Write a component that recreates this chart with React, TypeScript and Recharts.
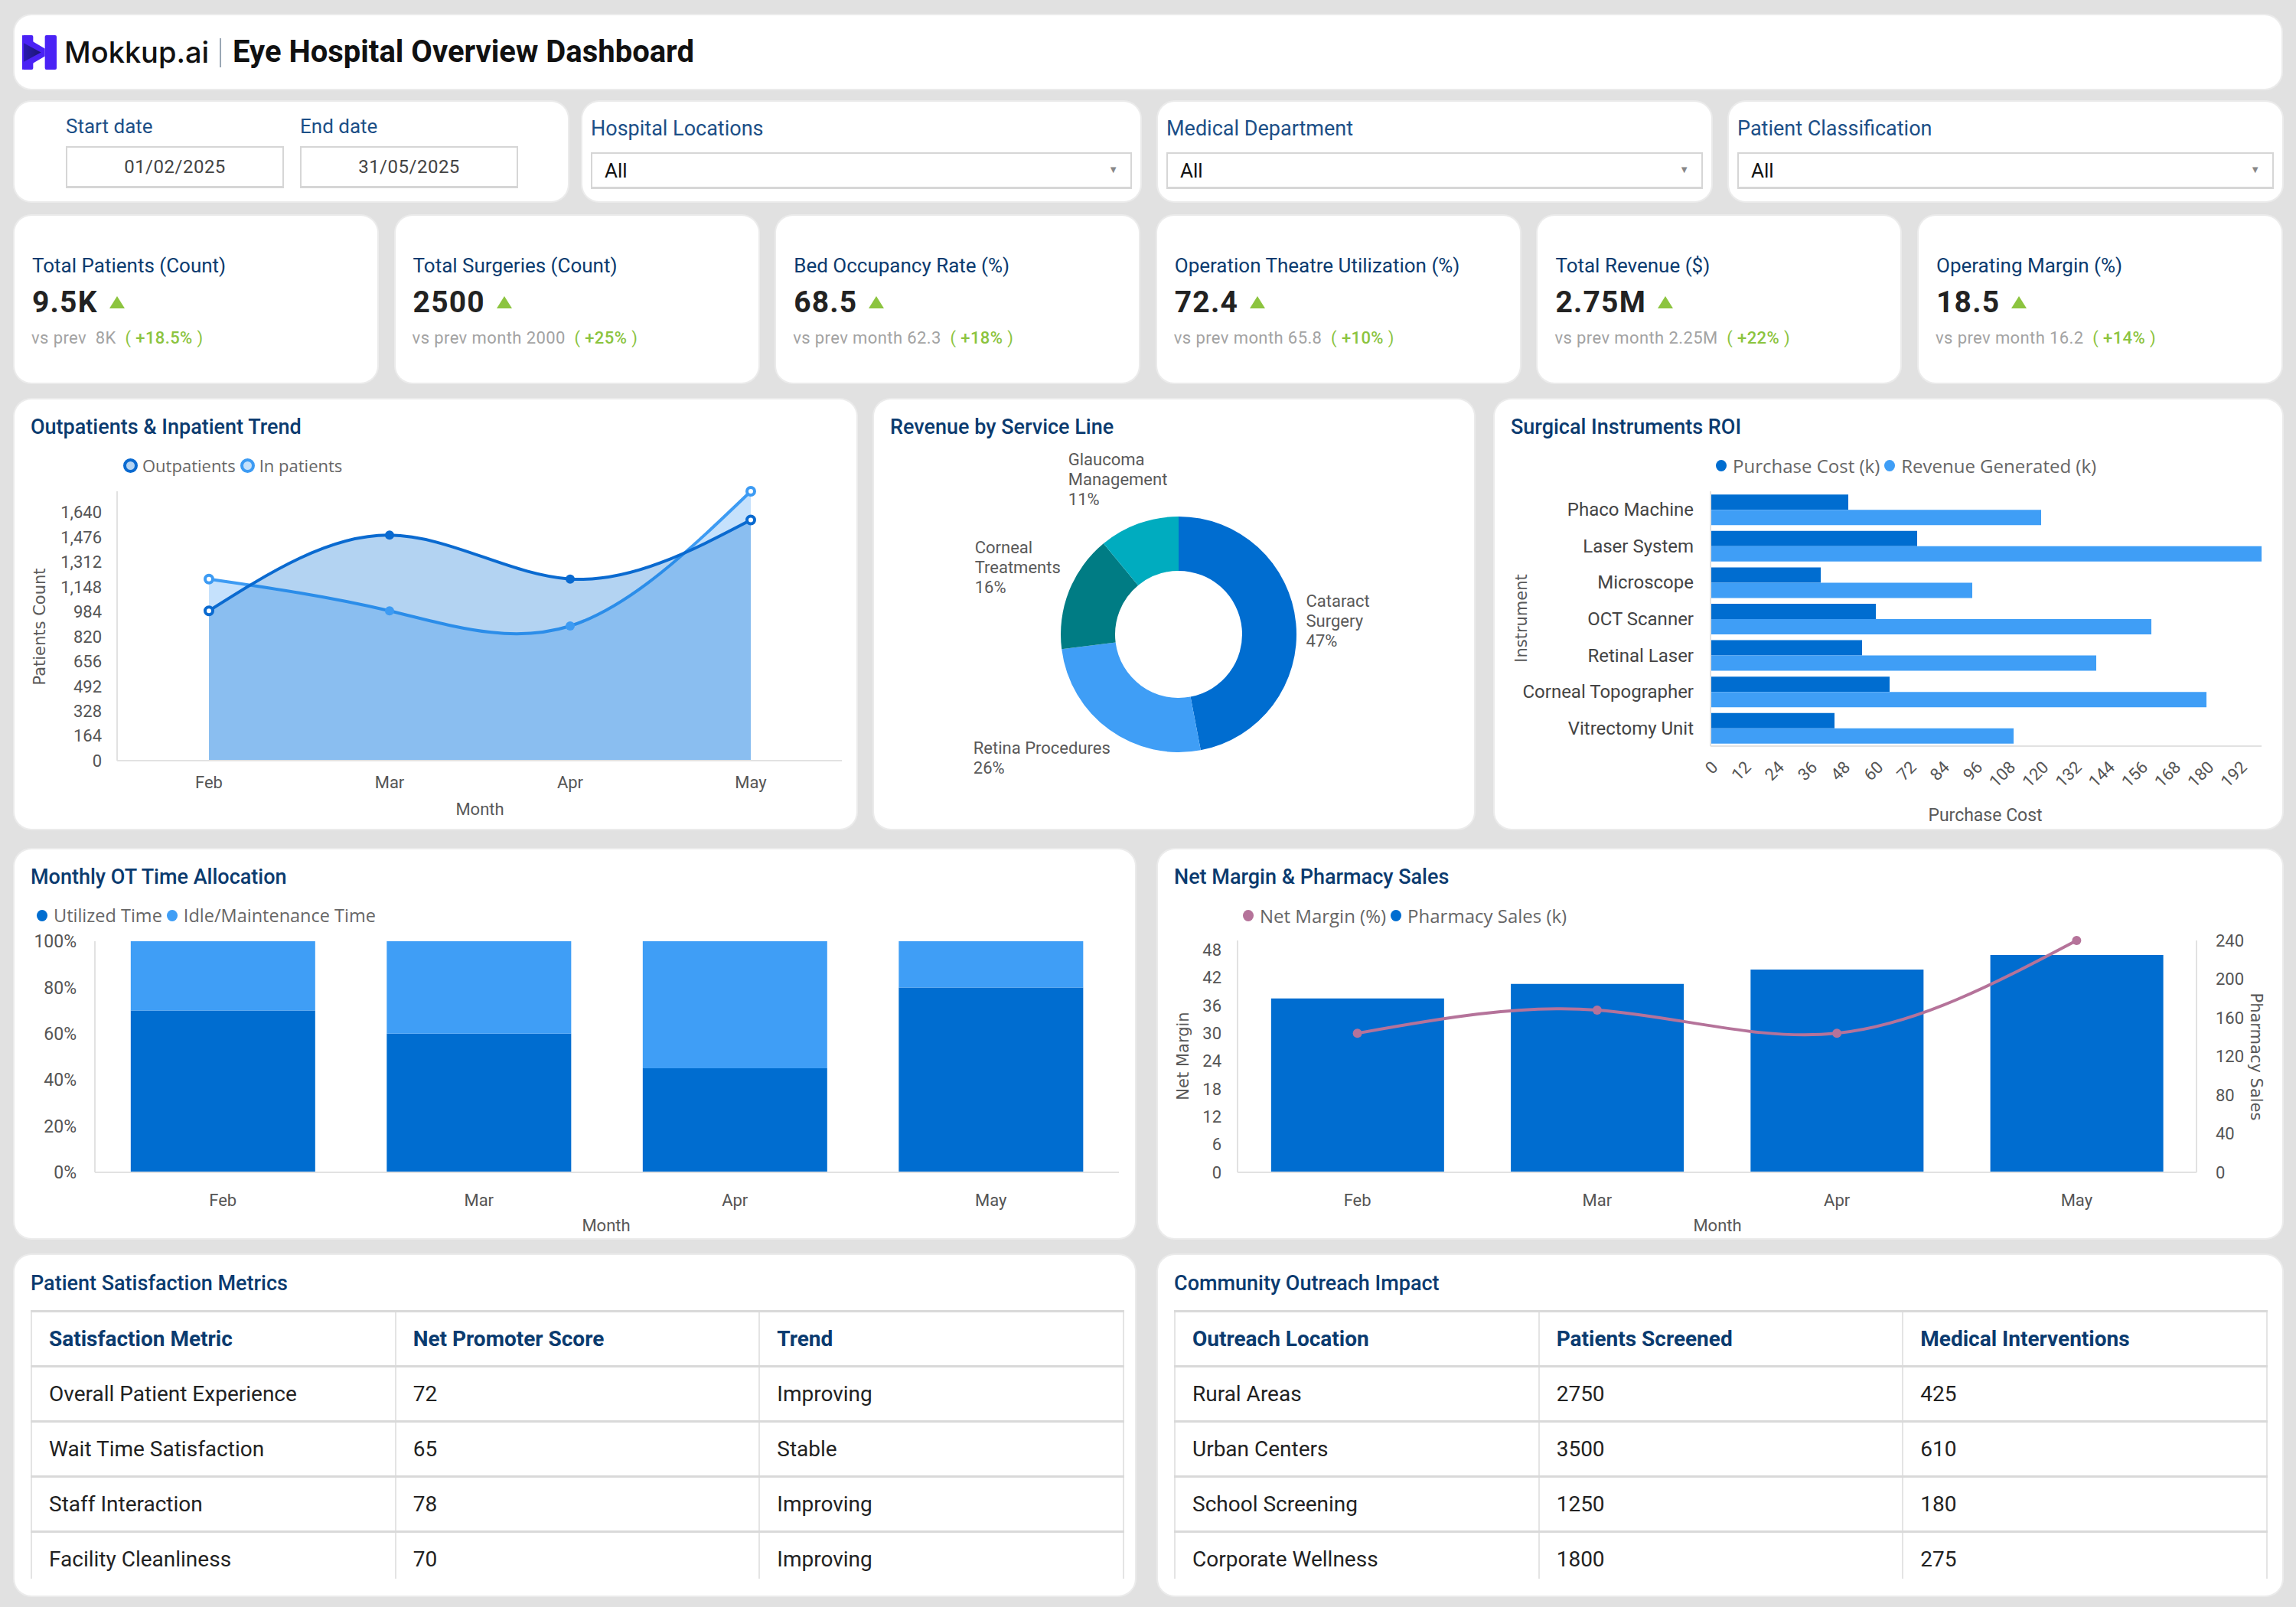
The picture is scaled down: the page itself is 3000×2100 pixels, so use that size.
import React from 'react';
import {
  AreaChart,
  Area,
  BarChart,
  Bar,
  ComposedChart,
  Line,
  PieChart,
  Pie,
  Cell,
  XAxis,
  YAxis,
} from 'recharts';

// ---- data ----
const months = ['Feb', 'Mar', 'Apr', 'May'];

const outpatients = [990, 1490, 1200, 1590];
const inpatients = [1200, 990, 890, 1780];
const patientTicks = [0, 164, 328, 492, 656, 820, 984, 1148, 1312, 1476, 1640];

const serviceLines = ['Cataract Surgery', 'Retina Procedures', 'Corneal Treatments', 'Glaucoma Management'];
const serviceShare = [47, 26, 16, 11];
const serviceLabelLines = [['Cataract', 'Surgery'], ['Retina Procedures'], ['Corneal', 'Treatments'], ['Glaucoma', 'Management']];
const serviceColors = ['#006dd0', '#3f9ef6', '#007c84', '#00acbf'];

const instruments = ['Phaco Machine', 'Laser System', 'Microscope', 'OCT Scanner', 'Retinal Laser', 'Corneal Topographer', 'Vitrectomy Unit'];
const purchaseCost = [50, 75, 40, 60, 55, 65, 45];
const revenueGenerated = [120, 200, 95, 160, 140, 180, 110];
const costTicks = [0, 12, 24, 36, 48, 60, 72, 84, 96, 108, 120, 132, 144, 156, 168, 180, 192];

const utilizedTime = [70, 60, 45, 80];
const idleTime = [30, 40, 55, 20];
const percentTicks = [0, 20, 40, 60, 80, 100];

const netMargin = [30, 35, 30, 50];
const pharmacySales = [180, 195, 210, 225];
const marginTicks = [0, 6, 12, 18, 24, 30, 36, 42, 48];
const salesTicks = [0, 40, 80, 120, 160, 200, 240];

const kpiTitles = ['Total Patients (Count)', 'Total Surgeries (Count)', 'Bed Occupancy Rate (%)', 'Operation Theatre Utilization (%)', 'Total Revenue ($)', 'Operating Margin (%)'];
const kpiValues = ['9.5K', '2500', '68.5', '72.4', '2.75M', '18.5'];
const kpiPrev = ['vs prev  8K', 'vs prev month 2000', 'vs prev month 62.3', 'vs prev month 65.8', 'vs prev month 2.25M', 'vs prev month 16.2'];
const kpiChange = ['+18.5%', '+25%', '+18%', '+10%', '+22%', '+14%'];

const satisfactionHeaders = ['Satisfaction Metric', 'Net Promoter Score', 'Trend'];
const satisfactionRows = [
  ['Overall Patient Experience', '72', 'Improving'],
  ['Wait Time Satisfaction', '65', 'Stable'],
  ['Staff Interaction', '78', 'Improving'],
  ['Facility Cleanliness', '70', 'Improving'],
];
const outreachHeaders = ['Outreach Location', 'Patients Screened', 'Medical Interventions'];
const outreachRows = [
  ['Rural Areas', '2750', '425'],
  ['Urban Centers', '3500', '610'],
  ['School Screening', '1250', '180'],
  ['Corporate Wellness', '1800', '275'],
];

// ---- tables for recharts ----
const trendData = months.map((m, i) => ({ month: m, outpatients: outpatients[i], inpatients: inpatients[i] }));
const serviceData = serviceLines.map((n, i) => ({ name: n, value: serviceShare[i] }));
const instrumentData = instruments.map((n, i) => ({ name: n, cost: purchaseCost[i], revenue: revenueGenerated[i] }));
const otData = months.map((m, i) => ({ month: m, utilized: utilizedTime[i], idle: idleTime[i] }));
const marginData = months.map((m, i) => ({ month: m, margin: netMargin[i], sales: pharmacySales[i] }));

// ---- styles ----
const DARK = '#006dd0';
const LIGHT = '#3f9ef6';
const TITLE = '#0b3b6f';
const LABEL_BLUE = '#1c4f87';
const GREEN = '#8cc43f';
const tick = { fill: '#555', fontSize: 22, fontFamily: 'Roboto' };
const axisLine = { stroke: '#e2e2e2', strokeWidth: 2 };
// small hand offsets so the donut labels don't crowd each other
const pieLabelNudge = [[0, 2], [-39, -31], [4, -3], [-4, 7]];

const measureCtx = typeof document !== 'undefined' ? document.createElement('canvas').getContext('2d') : null;
function textWidth(s: string, font: string) {
  if (!measureCtx) return s.length * 11;
  measureCtx.font = font;
  return measureCtx.measureText(s).width;
}

function Card({ x, y, w, h, children }: any) {
  return (
    <div
      style={{
        position: 'absolute',
        left: x,
        top: y,
        width: w,
        height: h,
        background: '#fff',
        borderRadius: 22,
        boxShadow: '0 0 0 2px #ebebeb',
        overflow: 'hidden',
      }}
    >
      {children}
    </div>
  );
}

function CardTitle({ text, cy = 36 }: { text: string; cy?: number }) {
  return (
    <div
      style={{
        position: 'absolute',
        left: 21,
        top: cy - 18,
        height: 36,
        lineHeight: '36px',
        fontSize: 27,
        fontWeight: 500,
        color: TITLE,
        whiteSpace: 'nowrap',
      }}
    >
      {text}
    </div>
  );
}

function AxisTitle({ text, cx, cy, rotate = 0, family = 'Roboto', size = 22 }: any) {
  return (
    <div
      style={{
        position: 'absolute',
        left: cx,
        top: cy,
        transform: `translate(-50%, -50%) rotate(${rotate}deg)`,
        fontFamily: family,
        fontSize: size,
        color: '#595959',
        whiteSpace: 'nowrap',
        lineHeight: '26px',
      }}
    >
      {text}
    </div>
  );
}

type LegendItem = { label: string; color: string; ring?: string };
function Legend({ items, left, top = 71, size = 22 }: { items: LegendItem[]; left: number; top?: number; size?: number }) {
  return (
    <div
      style={{
        position: 'absolute',
        left,
        top,
        height: 30,
        display: 'flex',
        alignItems: 'center',
        fontFamily: '"Open Sans"',
        fontSize: size,
        color: '#666',
        whiteSpace: 'nowrap',
      }}
    >
      {items.map((it) => (
        <span key={it.label} style={{ display: 'flex', alignItems: 'center', marginRight: 6 }}>
          <span
            style={{
              boxSizing: 'border-box',
              width: it.ring ? 19 : 14,
              height: it.ring ? 19 : 15,
              borderRadius: '50%',
              background: it.ring ? it.ring : it.color,
              border: it.ring ? `4px solid ${it.color}` : 'none',
              marginRight: it.ring ? 6 : 8,
            }}
          />
          {it.label}
        </span>
      ))}
    </div>
  );
}

function Logo() {
  return (
    <svg width={45} height={45} viewBox="0 0 44 44" style={{ position: 'absolute', left: 10, top: 26 }}>
      <defs>
        <linearGradient id="logoGrad" x1="0" y1="0" x2="1" y2="0">
          <stop offset="0%" stopColor="#2a1ab0" />
          <stop offset="100%" stopColor="#1b1670" />
        </linearGradient>
      </defs>
      <rect x={0} y={0} width={14} height={44} rx={2} fill="#4a22f5" />
      <rect x={29} y={0} width={15} height={44} rx={2} fill="#4a22f5" />
      <polygon points="0,0 29,17 29,27 0,44 0,34 16,22 0,10" fill="#4a22f5" />
      <polygon points="2,10 24,22 2,34" fill="url(#logoGrad)" />
    </svg>
  );
}

function DateField({ x, label, value }: { x: number; label: string; value: string }) {
  return (
    <>
      <div style={{ position: 'absolute', left: x, top: 17, fontSize: 26, color: LABEL_BLUE, lineHeight: '30px' }}>{label}</div>
      <div
        style={{
          position: 'absolute',
          left: x,
          top: 58,
          width: 285,
          height: 55,
          boxSizing: 'border-box',
          border: '2px solid #d6d6d6',
          borderBottomWidth: 3,
          display: 'flex',
          alignItems: 'center',
          justifyContent: 'center',
          fontSize: 24,
          color: '#444',
          letterSpacing: 0.5,
        }}
      >
        {value}
      </div>
    </>
  );
}

function Dropdown({ x, w, label }: { x: number; w: number; label: string }) {
  return (
    <Card x={x} y={133} w={w} h={130}>
      <div style={{ position: 'absolute', left: 11, top: 20, fontSize: 27, color: LABEL_BLUE, lineHeight: '30px' }}>{label}</div>
      <div
        style={{
          position: 'absolute',
          left: 11,
          top: 66,
          width: w - 22,
          height: 48,
          boxSizing: 'border-box',
          border: '2px solid #d6d6d6',
          borderBottomWidth: 3,
          display: 'flex',
          alignItems: 'center',
          paddingLeft: 16,
          fontSize: 26,
          color: '#111',
        }}
      >
        All
        <span style={{ position: 'absolute', right: 16, top: 13, fontSize: 13, color: '#888' }}>▼</span>
      </div>
    </Card>
  );
}

function Kpi({ i }: { i: number }) {
  const x = 19 + i * 497.6;
  return (
    <Card x={x} y={282} w={474} h={218}>
      <div style={{ position: 'absolute', left: 23, top: 48, fontSize: 26, color: TITLE, lineHeight: '34px', whiteSpace: 'nowrap' }}>
        {kpiTitles[i]}
      </div>
      <div style={{ position: 'absolute', left: 23, top: 92, height: 42, display: 'flex', alignItems: 'center' }}>
        <span style={{ fontSize: 39, fontWeight: 700, color: '#222', letterSpacing: 1.2 }}>{kpiValues[i]}</span>
        <svg width={20} height={16} style={{ marginLeft: 15 }}>
          <polygon points="10,0 20,16 0,16" fill={GREEN} />
        </svg>
      </div>
      <div style={{ position: 'absolute', left: 22, top: 146, fontSize: 22, lineHeight: '28px', whiteSpace: 'pre', letterSpacing: 0.4 }}>
        <span style={{ color: '#a3a3a3' }}>{kpiPrev[i]}</span>
        <span style={{ color: GREEN }}>{'  ( '}</span>
        <span style={{ color: GREEN, fontWeight: 500 }}>{kpiChange[i]}</span>
        <span style={{ color: GREEN }}>{' )'}</span>
      </div>
    </Card>
  );
}

function DataTable({ headers, rows }: { headers: string[]; rows: string[][] }) {
  const cellBase: React.CSSProperties = {
    height: 69,
    padding: '0 0 0 22px',
    textAlign: 'left',
    borderLeft: '2px solid #e4e4e4',
    borderRight: '2px solid #e4e4e4',
    borderBottom: '3px solid #d9d9d9',
    fontSize: 28,
  };
  return (
    <div style={{ position: 'absolute', left: 21, top: 72, width: 1429, height: 351, overflow: 'hidden' }}>
      <table style={{ borderCollapse: 'collapse', width: '100%', tableLayout: 'fixed' }}>
        <thead>
          <tr>
            {headers.map((h) => (
              <th key={h} style={{ ...cellBase, borderTop: '3px solid #d9d9d9', fontWeight: 700, color: TITLE }}>
                {h}
              </th>
            ))}
          </tr>
        </thead>
        <tbody>
          {rows.map((r) => (
            <tr key={r[0]}>
              {r.map((c, j) => (
                <td key={j} style={{ ...cellBase, color: '#222' }}>
                  {c}
                </td>
              ))}
            </tr>
          ))}
        </tbody>
      </table>
    </div>
  );
}

const trendDot = (color: string) => (p: any) => {
  const edge = p.index === 0 || p.index === months.length - 1;
  return (
    <circle
      key={`${color}-${p.index}`}
      cx={p.cx}
      cy={p.cy}
      r={edge ? 5 : 6}
      fill={edge ? '#fff' : color}
      stroke={color}
      strokeWidth={edge ? 4 : 0}
    />
  );
};

const renderServiceLabel = (props: any) => {
  const { cx, cy, midAngle, outerRadius, index } = props;
  const lines = [...serviceLabelLines[index], `${serviceShare[index]}%`];
  const font = '22px Roboto';
  const w = Math.max(...lines.map((l) => textWidth(l, font)));
  const lh = 26;
  const h = lines.length * lh;
  const rad = (-midAngle * Math.PI) / 180;
  const c = Math.cos(rad);
  const s = Math.sin(rad);
  const r = outerRadius + 10 + (Math.abs(c) * w) / 2 + (Math.abs(s) * h) / 2;
  const [nx, ny] = pieLabelNudge[index];
  const left = cx + r * c - w / 2 + nx;
  const top = cy + r * s - h / 2 + ny;
  return (
    <text key={`lbl-${index}`} x={left} y={top} fill="#595959" fontSize={22} fontFamily="Roboto">
      {lines.map((l, k) => (
        <tspan key={k} x={left} y={top + lh * k + lh / 2} dominantBaseline="central">
          {l}
        </tspan>
      ))}
    </text>
  );
};

export default function App() {
  return (
    <div
      style={{
        position: 'absolute',
        left: 0,
        top: 0,
        width: 3000,
        height: 2100,
        background: '#e1e1e1',
        fontFamily: 'Roboto, "Open Sans", sans-serif',
        overflow: 'hidden',
      }}
    >
      {/* header */}
      <Card x={19} y={20} w={2962} h={96}>
        <Logo />
        <div style={{ position: 'absolute', left: 65, top: 26, lineHeight: '44px', fontFamily: 'Inter', fontWeight: 500, fontSize: 38, color: '#111' }}>
          Mokkup.ai
        </div>
        <div style={{ position: 'absolute', left: 268, top: 30, width: 2, height: 38, background: '#9aa7b5' }} />
        <div style={{ position: 'absolute', left: 285, top: 26, lineHeight: '44px', fontWeight: 700, fontSize: 40, color: '#111' }}>
          Eye Hospital Overview Dashboard
        </div>
      </Card>

      {/* filters */}
      <Card x={19} y={133} w={723} h={130}>
        <DateField x={67} label="Start date" value="01/02/2025" />
        <DateField x={373} label="End date" value="31/05/2025" />
      </Card>
      <Dropdown x={761} w={729} label="Hospital Locations" />
      <Dropdown x={1513} w={723} label="Medical Department" />
      <Dropdown x={2259} w={723} label="Patient Classification" />

      {/* KPIs */}
      {kpiTitles.map((_, i) => (
        <Kpi key={i} i={i} />
      ))}

      {/* Outpatients & Inpatient Trend */}
      <Card x={19} y={522} w={1100} h={561}>
        <CardTitle text="Outpatients & Inpatient Trend" />
        <Legend
          left={142}
          items={[
            { label: 'Outpatients', color: '#0a6ad0', ring: '#b3d3f2' },
            { label: 'In patients', color: '#3d9bf3', ring: '#c5e1fb' },
          ]}
        />
        <AreaChart width={1100} height={561} data={trendData} margin={{ top: 120, right: 19, bottom: 59, left: 54 }}>
          <XAxis
            dataKey="month"
            tick={tick}
            tickLine={false}
            tickMargin={14}
            axisLine={axisLine}
            padding={{ left: 120, right: 119 }}
            height={30}
          />
          <YAxis
            width={80}
            domain={[0, 'dataMax']}
            ticks={patientTicks}
            tickFormatter={(v: number) => v.toLocaleString('en-US')}
            tick={tick}
            tickLine={false}
            tickMargin={14}
            axisLine={axisLine}
          />
          <Area
            type="natural"
            dataKey="inpatients"
            stroke="#3d9bf3"
            strokeWidth={4}
            fill="#3e9cf4"
            fillOpacity={0.3}
            dot={trendDot('#3d9bf3')}
            activeDot={false}
            isAnimationActive={false}
          />
          <Area
            type="natural"
            dataKey="outpatients"
            stroke="#0a6ad0"
            strokeWidth={4}
            fill="#026cd4"
            fillOpacity={0.3}
            dot={trendDot('#0a6ad0')}
            activeDot={false}
            isAnimationActive={false}
          />
        </AreaChart>
        <AxisTitle text="Month" cx={608} cy={536} />
        <AxisTitle text="Patients Count" cx={33} cy={297} rotate={-90} family='"DejaVu Sans"' size={21} />
      </Card>

      {/* Revenue by Service Line */}
      <Card x={1142} y={522} w={784} h={561}>
        <CardTitle text="Revenue by Service Line" />
        <PieChart width={784} height={561}>
          <Pie
            data={serviceData}
            dataKey="value"
            nameKey="name"
            cx={393}
            cy={302}
            innerRadius={83}
            outerRadius={154}
            startAngle={90}
            endAngle={-270}
            stroke="none"
            label={renderServiceLabel}
            labelLine={false}
            isAnimationActive={false}
          >
            {serviceData.map((d, i) => (
              <Cell key={d.name} fill={serviceColors[i]} />
            ))}
          </Pie>
        </PieChart>
      </Card>

      {/* Surgical Instruments ROI */}
      <Card x={1953} y={522} w={1029} h={561}>
        <CardTitle text="Surgical Instruments ROI" />
        <Legend
          left={289}
          size={24}
          items={[
            { label: 'Purchase Cost (k)', color: DARK },
            { label: 'Revenue Generated (k)', color: LIGHT },
          ]}
        />
        <BarChart
          layout="vertical"
          width={1029}
          height={561}
          data={instrumentData}
          margin={{ top: 120, right: 27, bottom: 48, left: 82 }}
          barCategoryGap="9%"
          barGap={0}
        >
          <XAxis
            type="number"
            domain={[0, 'dataMax']}
            ticks={costTicks}
            interval={0}
            tick={tick}
            angle={-45}
            textAnchor="end"
            tickLine={false}
            tickMargin={12}
            axisLine={axisLine}
            height={60}
          />
          <YAxis
            type="category"
            dataKey="name"
            width={200}
            tick={{ ...tick, fontSize: 24, fill: '#444' }}
            tickLine={false}
            tickMargin={16}
            axisLine={axisLine}
            interval={0}
          />
          <Bar dataKey="cost" fill={DARK} isAnimationActive={false} />
          <Bar dataKey="revenue" fill={LIGHT} isAnimationActive={false} />
        </BarChart>
        <AxisTitle text="Purchase Cost" cx={641} cy={544} size={23} />
        <AxisTitle text="Instrument" cx={35} cy={286} rotate={-90} family='"DejaVu Sans"' size={21} />
      </Card>

      {/* Monthly OT Time Allocation */}
      <Card x={19} y={1110} w={1464} h={508}>
        <CardTitle text="Monthly OT Time Allocation" />
        <Legend
          left={29}
          size={23.5}
          items={[
            { label: 'Utilized Time', color: DARK },
            { label: 'Idle/Maintenance Time', color: LIGHT },
          ]}
        />
        <BarChart width={1464} height={508} data={otData} margin={{ top: 120, right: 21, bottom: 46, left: 35 }} barCategoryGap="14%">
          <XAxis dataKey="month" tick={tick} tickLine={false} tickMargin={22} axisLine={axisLine} height={40} />
          <YAxis
            width={70}
            domain={[0, 100]}
            ticks={percentTicks}
            tickFormatter={(v: number) => `${v}%`}
            tick={{ ...tick, fontSize: 23 }}
            tickLine={false}
            tickMargin={18}
            axisLine={axisLine}
          />
          <Bar dataKey="utilized" stackId="ot" fill={DARK} isAnimationActive={false} />
          <Bar dataKey="idle" stackId="ot" fill={LIGHT} isAnimationActive={false} />
        </BarChart>
        <AxisTitle text="Month" cx={773} cy={492} />
      </Card>

      {/* Net Margin & Pharmacy Sales */}
      <Card x={1513} y={1110} w={1469} h={508}>
        <CardTitle text="Net Margin & Pharmacy Sales" />
        <Legend
          left={111}
          size={24}
          items={[
            { label: 'Net Margin (%)', color: '#b5739a' },
            { label: 'Pharmacy Sales (k)', color: DARK },
          ]}
        />
        <ComposedChart width={1469} height={508} data={marginData} margin={{ top: 119, right: 32, bottom: 46, left: 34 }} barCategoryGap="14%">
          <XAxis dataKey="month" tick={tick} tickLine={false} tickMargin={22} axisLine={axisLine} height={40} />
          <YAxis
            yAxisId="margin"
            width={70}
            domain={[0, 'dataMax']}
            ticks={marginTicks}
            tick={tick}
            tickLine={false}
            tickMargin={15}
            axisLine={axisLine}
          />
          <YAxis
            yAxisId="sales"
            orientation="right"
            width={80}
            domain={[0, 240]}
            ticks={salesTicks}
            tick={tick}
            tickLine={false}
            tickMargin={19}
            axisLine={axisLine}
          />
          <Bar yAxisId="sales" dataKey="sales" fill={DARK} isAnimationActive={false} />
          <Line
            yAxisId="margin"
            type="natural"
            dataKey="margin"
            stroke="#b5739a"
            strokeWidth={4}
            dot={{ r: 6, fill: '#b5739a', stroke: 'none' }}
            activeDot={false}
            isAnimationActive={false}
          />
        </ComposedChart>
        <AxisTitle text="Month" cx={731} cy={492} />
        <AxisTitle text="Net Margin" cx={33} cy={270} rotate={-90} family='"DejaVu Sans"' size={21} />
        <AxisTitle text="Pharmacy Sales" cx={1435} cy={271} rotate={90} family='"DejaVu Sans"' size={21} />
      </Card>

      {/* tables */}
      <Card x={19} y={1640} w={1464} h={445}>
        <CardTitle text="Patient Satisfaction Metrics" cy={37} />
        <DataTable headers={satisfactionHeaders} rows={satisfactionRows} />
      </Card>
      <Card x={1513} y={1640} w={1469} h={445}>
        <CardTitle text="Community Outreach Impact" cy={37} />
        <DataTable headers={outreachHeaders} rows={outreachRows} />
      </Card>
    </div>
  );
}
